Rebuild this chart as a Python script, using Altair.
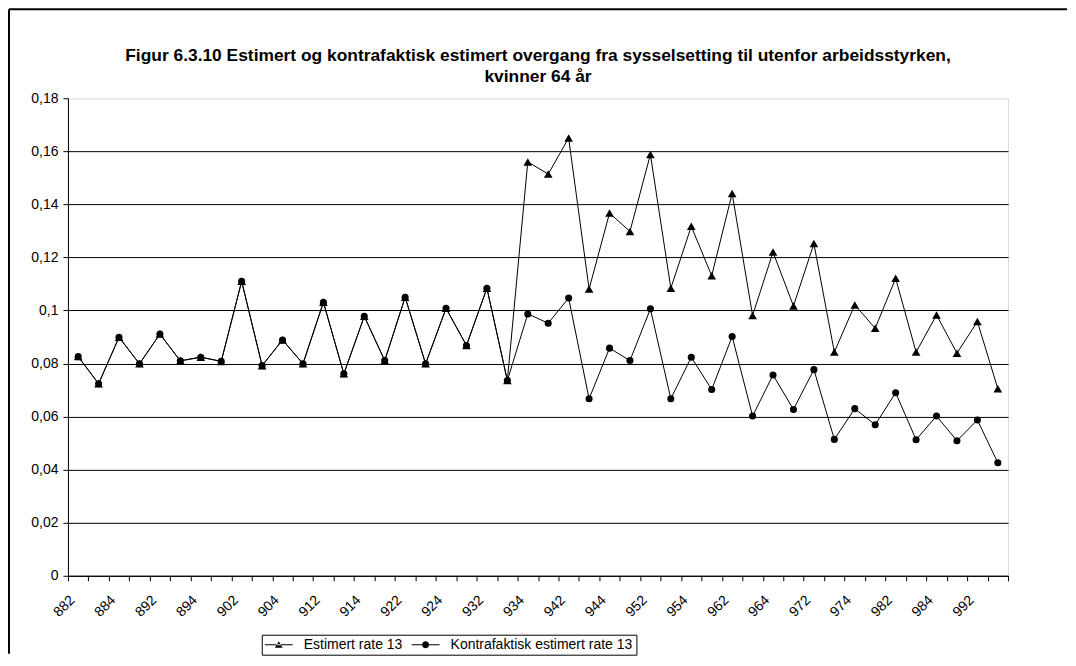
import altair as alt
import pandas as pd

periods = ["882", "883", "884", "891", "892", "893", "894", "901", "902", "903", "904",
           "911", "912", "913", "914", "921", "922", "923", "924", "931", "932", "933", "934",
           "941", "942", "943", "944", "951", "952", "953", "954", "961", "962", "963", "964",
           "971", "972", "973", "974", "981", "982", "983", "984", "991", "992", "993"]

shown_labels = ["882", "884", "892", "894", "902", "904", "912", "914", "922", "924", "932",
                "934", "942", "944", "952", "954", "962", "964", "972", "974", "982", "984", "992"]

estimert = [0.0826, 0.0724, 0.0899, 0.0799, 0.0911, 0.0810, 0.0824, 0.0808, 0.1110, 0.0792,
            0.0889, 0.0799, 0.1031, 0.0761, 0.0978, 0.0811, 0.1050, 0.0799, 0.1008, 0.0868,
            0.1084, 0.0736, 0.1560, 0.1514, 0.1650, 0.1081, 0.1367, 0.1298, 0.1588, 0.1084,
            0.1317, 0.1131, 0.1441, 0.0981, 0.1220, 0.1017, 0.1252, 0.0843, 0.1021, 0.0933,
            0.1121, 0.0843, 0.0983, 0.0839, 0.0958, 0.0705]

kontrafaktisk = [0.0826, 0.0724, 0.0899, 0.0799, 0.0911, 0.0810, 0.0824, 0.0808, 0.1110, 0.0792,
                 0.0889, 0.0799, 0.1031, 0.0761, 0.0978, 0.0811, 0.1050, 0.0799, 0.1008, 0.0868,
                 0.1084, 0.0736, 0.0987, 0.0952, 0.1047, 0.0667, 0.0858, 0.0811, 0.1006, 0.0667,
                 0.0824, 0.0702, 0.0902, 0.0602, 0.0757, 0.0627, 0.0777, 0.0514, 0.0630, 0.0569,
                 0.0690, 0.0513, 0.0602, 0.0509, 0.0587, 0.0426]

series_names = ["Estimert rate 13", "Kontrafaktisk estimert rate 13"]
y_ticks = [0, 0.02, 0.04, 0.06, 0.08, 0.10, 0.12, 0.14, 0.16, 0.18]

title_lines = ["Figur 6.3.10 Estimert og kontrafaktisk estimert overgang fra sysselsetting til utenfor arbeidsstyrken,",
               "kvinner 64 år"]

rows = []
for i, p in enumerate(periods):
    rows.append({"periode": p, "serie": series_names[0], "verdi": estimert[i]})
for i, p in enumerate(periods):
    rows.append({"periode": p, "serie": series_names[1], "verdi": kontrafaktisk[i]})
df = pd.DataFrame(rows)

FONT = "Liberation Sans"
W, H = 941, 478

label_list = "[" + ",".join("'%s'" % s for s in shown_labels) + "]"

x_enc = alt.X("periode:N", sort=periods, title=None,
              scale=alt.Scale(type="band", paddingInner=0, paddingOuter=0),
              axis=alt.Axis(labelAngle=-45, labelAlign="right", labelBaseline="middle",
                            labelFont=FONT, labelFontSize=14, labelColor="black",
                            labelOverlap=False, labelPadding=17, labelOffset=-6,
                            labelExpr="indexof(%s, datum.value) >= 0 ? datum.value : ''" % label_list,
                            tickBand="extent", tickSize=5, tickColor="black",
                            domainColor="black", grid=False))
y_enc = alt.Y("verdi:Q", title=None,
              scale=alt.Scale(domain=[0, 0.18], nice=False),
              axis=alt.Axis(values=y_ticks, labelFont=FONT, labelFontSize=14, labelColor="black",
                            labelExpr="replace(format(datum.value, '.2~f'), '.', ',')",
                            tickSize=5, tickColor="black", domainColor="black",
                            grid=True,
                            gridColor=alt.condition("datum.value >= 0.179", alt.value("#e6e6e6"), alt.value("black")),
                            gridWidth=1, labelPadding=5))

base = alt.Chart(df)

lines = base.mark_line(color="black", strokeWidth=1).encode(
    x=x_enc, y=y_enc, detail="serie:N")

points = base.mark_point(filled=True, color="black", opacity=1).encode(
    x=x_enc, y=y_enc,
    shape=alt.Shape("serie:N", scale=alt.Scale(domain=series_names, range=["triangle-up", "circle"]),
                    legend=None),
    size=alt.Size("serie:N", scale=alt.Scale(domain=series_names, range=[75, 50]), legend=None),
    order=alt.Order("serie:N"))

# legend glyphs: a thin filled bar through a marker, units of 7 px (symbolSize 196)
tri_path = "M-2,-0.08H2V0.08H-2Z M-0.55,0.45L0.55,0.45L0,-0.5Z"
circ_path = "M-2,-0.08H2V0.08H-2Z M0.5,0A0.5,0.5,0,1,1,-0.5,0A0.5,0.5,0,1,1,0.5,0Z"

legend_layer = base.mark_point(filled=True, color="black", opacity=0).encode(
    x=x_enc, y=y_enc,
    shape=alt.Shape("serie:N", scale=alt.Scale(domain=series_names, range=[tri_path, circ_path]),
                    legend=alt.Legend(title=None, orient="none", legendX=194, legendY=537,
                                      direction="horizontal", symbolSize=196,
                                      symbolOffset=7, labelOffset=18,
                                      symbolOpacity=1, symbolFillColor="black",
                                      symbolStrokeWidth=0,
                                      labelFont=FONT, labelFontSize=14, labelColor="black",
                                      labelLimit=400, columnPadding=9, padding=3,
                                      strokeColor="black", fillColor="white")))

frame_df = pd.DataFrame({"k": [0]})
frame_top = alt.Chart(frame_df).mark_rule(color="black", strokeWidth=2).encode(
    x=alt.value(-59), x2=alt.value(1000), y=alt.value(-89))
frame_left = alt.Chart(frame_df).mark_rule(color="black", strokeWidth=2).encode(
    x=alt.value(-59), y=alt.value(-89), y2=alt.value(556))

chart = alt.layer(frame_top, frame_left, lines, points, legend_layer).resolve_scale(
    shape="independent", size="independent"
).properties(
    width=W, height=H, padding=0,
    title=alt.TitleParams(text=title_lines, font=FONT, fontSize=17.4, fontWeight="bold",
                          color="black", anchor="middle", frame="group", offset=-77,
                          lineHeight=21)
).configure_view(stroke=None).configure(background="white")

chart.save("out.html", embed_options={"renderer": "svg", "actions": False})
